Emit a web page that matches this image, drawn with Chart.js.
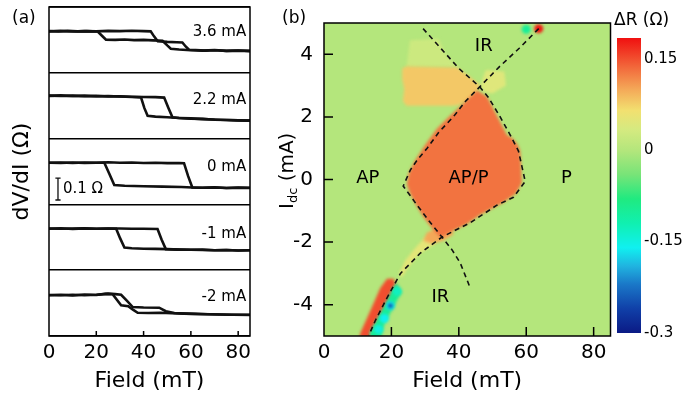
<!DOCTYPE html>
<html>
<head>
<meta charset="utf-8">
<script src="https://cdn.jsdelivr.net/npm/chart.js@4.4.1/dist/chart.umd.min.js"></script>
<style>
  body { margin: 0; background: #fff; font-family: "DejaVu Sans", sans-serif; }
  #wrap { position: relative; width: 693px; height: 398px; overflow: hidden; }
  canvas { position: absolute; top: 0; }
  #cA { left: 0; }
  #cB { left: 270px; }
  #cC { left: 600px; }
  .tag { position: absolute; color: #000; font-size: 17px; line-height: 1; }
</style>
</head>
<body>
<div id="wrap">
  <canvas id="cA" width="270" height="398"></canvas>
  <canvas id="cB" width="345" height="398"></canvas>
  <canvas id="cC" width="93" height="398"></canvas>
  <div class="tag" style="left:12px;top:9px">(a)</div>
  <div class="tag" style="left:282px;top:9px">(b)</div>
  <div class="tag" style="left:614px;top:11px">ΔR (Ω)</div>
</div>
<script>
// ---- data ----
const fieldTicks = [0, 20, 40, 60, 80];
const currentTicks = [-4, -2, 0, 2, 4];
const cbTicks = [0.15, 0, -0.15, -0.3];

// (a) dV/dI loops (Ohm above each strip's baseline), two sweep branches each
const loopLabels = ['3.6 mA', '2.2 mA', '0 mA', '-1 mA', '-2 mA'];
const f36a = [0, 5, 10, 15, 20, 25, 30, 35, 40, 43, 44.5, 46, 50, 54, 56.4, 57.8, 59.2, 62, 66, 70, 75, 80, 85];
const r36a = [.189, .191, .188, .190, .189, .191, .190, .192, .190, .189, .165, .144, .141, .139, .138, .120, .105, .104, .101, .103, .100, .102, .100];
const f36b = [0, 4, 8, 12, 16, 20.6, 22.5, 24.1, 28, 32, 36, 40, 44, 48, 50, 51.5, 55, 60, 65, 70, 75, 80, 85];
const r36b = [.190, .188, .191, .189, .190, .188, .168, .151, .150, .152, .149, .150, .148, .146, .125, .110, .106, .103, .101, .104, .100, .101, .099];
const f22a = [0, 5, 10, 15, 20, 25, 30, 35, 38.9, 40.3, 41.7, 45, 50, 55, 60, 65, 70, 75, 80, 85];
const r22a = [.195, .197, .194, .196, .193, .194, .192, .190, .188, .140, .104, .100, .097, .094, .092, .089, .087, .085, .083, .082];
const f22b = [0, 5, 10, 15, 20, 25, 30, 35, 40, 45, 48.7, 50.5, 52.2, 55, 60, 65, 70, 75, 80, 85];
const r22b = [.196, .194, .196, .193, .195, .192, .193, .191, .190, .189, .187, .140, .097, .094, .091, .090, .086, .085, .083, .082];
const f0a = [0, 5, 10, 15, 20, 23.4, 25.5, 27.6, 32, 40, 48, 56, 60.6, 65, 70, 75, 80, 85];
const r0a = [.190, .191, .189, .191, .190, .190, .140, .088, .085, .083, .081, .079, .077, .076, .078, .075, .077, .076];
const f0b = [0, 5, 10, 15, 20, 25, 30, 35, 40, 45, 50, 55, 57.1, 58.8, 60.6, 65, 70, 75, 80, 85];
const r0b = [.190, .189, .191, .189, .190, .192, .190, .191, .189, .190, .188, .189, .188, .130, .077, .076, .077, .075, .076, .075];
const f1a = [0, 5, 10, 15, 20, 25, 28.4, 30.1, 31.9, 35, 40, 45, 50, 55, 60, 65, 70, 75, 80, 85];
const r1a = [.189, .191, .188, .190, .189, .190, .189, .145, .103, .100, .098, .097, .096, .094, .093, .092, .091, .092, .090, .091];
const f1b = [0, 5, 10, 15, 20, 25, 30, 35, 40, 45.9, 47.6, 49.4, 55, 60, 65, 70, 75, 80, 85];
const r1b = [.190, .189, .190, .191, .189, .190, .190, .189, .189, .188, .140, .096, .094, .093, .094, .091, .092, .090, .091];
const f2a = [0, 5, 10, 15, 20, 24, 26.9, 28.7, 30.5, 33.5, 35.5, 37.5, 42, 47, 52, 57, 62, 67, 72, 77, 85];
const r2a = [.186, .188, .185, .189, .187, .192, .190, .165, .140, .136, .120, .106, .105, .106, .104, .102, .101, .099, .098, .097, .097];
const f2b = [0, 5, 10, 15, 20, 25, 28, 30.5, 33, 35.4, 40, 46.6, 49.4, 53, 58, 63, 68, 73, 78, 85];
const r2b = [.187, .186, .188, .186, .188, .193, .191, .188, .160, .132, .130, .129, .113, .105, .102, .100, .099, .098, .097, .096];
const scaleBarOhm = 0.1;

// (b) map of dR vs field and current, as regions of about equal value
const bgValue = 0.0;
const regionNames = ['topYellow', 'orangeBlock', 'rightYellow', 'tail', 'blob', 'apRed', 'redStrip', 'cyanBand'];
const regionValues = [0.025, 0.08, 0.045, 0.05, 0.1, 0.13, 0.15, -0.1];
const topYellowField = [24.5, 25.5, 34, 36, 39.5, 24.5];
const topYellowCurrent = [3.6, 4.45, 4.5, 4.0, 3.6, 3.6];
const orangeBlockField = [23.2, 24.5, 30, 39.5, 43, 46.4, 44, 40, 38, 24.5, 23.4, 23.8, 23.2];
const orangeBlockCurrent = [3.55, 3.62, 3.6, 3.58, 3.3, 3.0, 2.6, 2.38, 2.36, 2.36, 2.5, 2.9, 3.2];
const rightYellowField = [46.4, 48, 53.5, 54, 50, 47.5];
const rightYellowCurrent = [3.0, 3.5, 3.45, 3.0, 2.75, 2.8];
const tailField = [31, 33, 28, 25, 23, 22.3, 24, 27, 29.5];
const tailCurrent = [-1.8, -2.05, -2.4, -2.8, -3.15, -3.0, -2.6, -2.2, -1.9];
const blobField = [37, 38.5, 35.5, 32, 29.5, 30.5, 33.5];
const blobCurrent = [-1.5, -1.75, -1.95, -2.05, -1.95, -1.7, -1.55];
const apRedField = [45.4, 48.4, 51.5, 54.3, 55.5, 56.5, 57.5, 58.2, 58.5, 58.7, 57, 53, 46.4, 42, 38, 34.5, 32, 29.5, 27.5, 25.5, 24.6, 25.1, 27, 30, 33.5, 37, 40.4, 43];
const apRedCurrent = [2.85, 2.64, 2.0, 1.41, 1.35, 1.25, 1.1, 0.9, 0.4, -0.11, -0.45, -0.75, -1.13, -1.45, -1.65, -1.85, -1.55, -1.2, -0.85, -0.45, -0.15, 0.19, 0.6, 1.1, 1.62, 2.0, 2.33, 2.6];
const redStripField = [10.3, 10.8, 13.8, 16.7, 18.7, 20.7, 21.7, 18.7, 15.8, 13.8, 13.2];
const redStripCurrent = [-5.2, -4.9, -4.18, -3.47, -3.17, -3.17, -3.47, -4.08, -4.59, -4.98, -5.2];
const cyanBandField = [21.5, 23, 20.5, 18, 16.5, 14, 13.5, 16, 18.5, 20.3];
const cyanBandCurrent = [-3.3, -3.6, -4.1, -4.6, -5.2, -5.2, -4.9, -4.4, -3.9, -3.5];
const spotField = [21.7, 19.7, 17.9, 16.2, 60, 63.7];
const spotCurrent = [-3.57, -4.03, -4.44, -4.79, 4.8, 4.82];
const spotValue = [-0.13, -0.17, -0.16, -0.15, -0.1, 0.18];
const dotField = [19.7];
const dotCurrent = [-4.03];
const dotValue = [-0.27];

// dashed switching boundaries
const curveAField = [29.4, 35, 40, 46.2, 48.8, 52, 55.3, 57.7, 59.7, 56.2, 51.3, 43.4, 35, 28.6, 22.7, 18.7, 15.3, 13.3];
const curveACurrent = [4.82, 4.15, 3.55, 2.96, 2.62, 2.05, 1.41, 0.91, -0.06, -0.57, -0.82, -1.38, -1.84, -2.35, -3.0, -3.78, -4.49, -4.98];
const curveBField = [63.7, 58, 52, 46.2, 42, 38.5, 34, 30.6, 27.5, 25.6, 23.5, 25.5, 27.6, 31, 35, 38, 40.4, 43.4];
const curveBCurrent = [4.82, 4.2, 3.6, 2.96, 2.5, 2.02, 1.5, 1.0, 0.6, 0.3, -0.21, -0.5, -0.82, -1.3, -1.84, -2.25, -2.66, -3.47];

const regionLabels = ['IR', 'AP', 'AP/P', 'P', 'IR'];
const regionLabelField = [47.4, 13, 42.9, 71.9, 34.5];
const regionLabelCurrent = [4.27, 0.04, 0.04, 0.04, -3.78];

// colour scale
const cbMin = -0.3, cbMax = 0.184;
const cmapStops = [-0.30, -0.26, -0.22, -0.19, -0.16, -0.12, -0.08, -0.04, 0.0, 0.035, 0.065, 0.10, 0.135, 0.184];
const cmapColors = ['#0b1a85', '#1040a8', '#1a78c8', '#20b4e0', '#10f0f0', '#10f0b0', '#20ea80', '#78e478',
                    '#b4e67c', '#d6ea80', '#f2e070', '#f4a858', '#f26a3c', '#f01010'];

// ---- helpers ----
Chart.defaults.font.family = '"DejaVu Sans", sans-serif';
Chart.defaults.color = '#000';
Chart.defaults.animation = false;
Chart.defaults.responsive = false;
Chart.defaults.plugins.legend.display = false;
Chart.defaults.plugins.tooltip.enabled = false;
Chart.defaults.elements.point.radius = 0;
Chart.defaults.elements.line.tension = 0;

const pts = (xs, ys, dy = 0) => xs.map((x, i) => ({ x, y: ys[i] + dy }));
const setTicks = vals => s => { s.ticks = vals.map(v => ({ value: v })); };

function hexRgb(h) { const n = parseInt(h.slice(1), 16); return [n >> 16, (n >> 8) & 255, n & 255]; }
function cmap(v) {
  if (v <= cmapStops[0]) return cmapColors[0];
  for (let i = 1; i < cmapStops.length; i++) {
    if (v <= cmapStops[i]) {
      const t = (v - cmapStops[i - 1]) / (cmapStops[i] - cmapStops[i - 1]);
      const a = hexRgb(cmapColors[i - 1]), b = hexRgb(cmapColors[i]);
      return 'rgb(' + a.map((c, k) => Math.round(c + (b[k] - c) * t)).join(',') + ')';
    }
  }
  return cmapColors[cmapColors.length - 1];
}

// box around the plot plus inward tick marks
const frame = {
  id: 'frame',
  afterDatasetsDraw(chart, args, opts) {
    const { ctx, chartArea: a, scales: { x, y } } = chart;
    ctx.save();
    ctx.strokeStyle = '#000';
    ctx.lineWidth = 1.5;
    ctx.beginPath();
    x.ticks.forEach(t => {
      if (t.value <= x.min || t.value >= x.max) return;
      const px = x.getPixelForValue(t.value);
      ctx.moveTo(px, a.bottom); ctx.lineTo(px, a.bottom - opts.len);
    });
    if (opts.yTicks) y.ticks.forEach(t => {
      const py = y.getPixelForValue(t.value);
      ctx.moveTo(a.left, py); ctx.lineTo(a.left + opts.len, py);
    });
    ctx.stroke();
    ctx.strokeRect(a.left, a.top, a.width, a.height);
    ctx.restore();
  }
};

// ---- (a) ----
const stripHeight = 0.3;
const stripBase = i => (loopLabels.length - 1 - i) * stripHeight;
const loopLabelY = [0.186, 0.177, 0.172, 0.165, 0.178];
const branches = [[f36a, r36a, f36b, r36b], [f22a, r22a, f22b, r22b], [f0a, r0a, f0b, r0b],
                  [f1a, r1a, f1b, r1b], [f2a, r2a, f2b, r2b]];

const dsA = [];
branches.forEach((b, i) => {
  dsA.push({ data: pts(b[0], b[1], stripBase(i)), borderColor: '#111', borderWidth: 2.6 });
  dsA.push({ data: pts(b[2], b[3], stripBase(i)), borderColor: '#111', borderWidth: 2.6 });
});
// 0.1 ohm scale bar in the 0 mA strip
const barLow = stripBase(2) + 0.02, barHigh = barLow + scaleBarOhm;
dsA.push({ data: pts([2.7, 4.9, 3.8, 3.8, 2.7, 4.9], [barLow, barLow, barLow, barHigh, barHigh, barHigh]),
           borderColor: '#111', borderWidth: 1.3 });

const loopText = {
  id: 'loopText',
  afterDatasetsDraw(chart) {
    const { ctx, scales: { x, y } } = chart;
    ctx.save();
    ctx.fillStyle = '#000';
    ctx.font = '15px "DejaVu Sans"';
    ctx.textBaseline = 'middle';
    ctx.textAlign = 'right';
    loopLabels.forEach((s, i) => ctx.fillText(s, x.getPixelForValue(83.4), y.getPixelForValue(stripBase(i) + loopLabelY[i])));
    ctx.textAlign = 'left';
    ctx.fillText('0.1 Ω', x.getPixelForValue(5.9), y.getPixelForValue((barLow + barHigh) / 2));
    ctx.restore();
  }
};

new Chart(document.getElementById('cA'), {
  type: 'line',
  data: { datasets: dsA },
  options: {
    layout: { padding: { top: 7, right: 20, left: 0, bottom: 0 } },
    plugins: { frame: { len: 5, yTicks: false } },
    scales: {
      x: {
        type: 'linear', min: 0, max: 85, afterBuildTicks: setTicks(fieldTicks),
        grid: { display: false, drawTicks: false }, border: { display: false },
        ticks: { font: { size: 20 }, padding: 5, maxRotation: 0 },
        title: { display: true, text: 'Field (mT)', font: { size: 22 }, padding: { top: 0, bottom: 4 } },
        afterFit: s => { s.height = 62; }
      },
      y: {
        type: 'linear', min: 0, max: stripHeight * loopLabels.length,
        afterBuildTicks: setTicks(loopLabels.map((l, i) => i * stripHeight).concat([stripHeight * loopLabels.length])),
        grid: { color: '#000', lineWidth: 1.5, drawTicks: false }, border: { display: false },
        ticks: { display: false },
        title: { display: true, text: 'dV/dI (Ω)', font: { size: 22 }, padding: { top: 9, bottom: 0 } },
        afterFit: s => { s.width = 49; }
      }
    }
  },
  plugins: [frame, loopText]
});

// ---- (b) ----
const regionData = {
  topYellow: [topYellowField, topYellowCurrent], orangeBlock: [orangeBlockField, orangeBlockCurrent],
  rightYellow: [rightYellowField, rightYellowCurrent], tail: [tailField, tailCurrent],
  blob: [blobField, blobCurrent], apRed: [apRedField, apRedCurrent],
  redStrip: [redStripField, redStripCurrent], cyanBand: [cyanBandField, cyanBandCurrent]
};

const dashed = { borderColor: '#111', borderWidth: 1.6, borderDash: [5, 4] };
const dsB = [
  { data: pts(curveAField, curveACurrent), ...dashed },
  { data: pts(curveBField, curveBCurrent), ...dashed },
  { data: pts(dotField, dotCurrent), showLine: false, pointRadius: 2, pointBackgroundColor: dotValue.map(cmap), pointBorderWidth: 0 },
  { data: pts(spotField, spotCurrent), showLine: false, pointRadius: 4.5, pointBackgroundColor: spotValue.map(cmap), pointBorderWidth: 0 }
];
const lastBlurred = 2; // datasets drawn from the highest index down; blur ends after this one
regionNames.slice().reverse().forEach(name => {
  const v = regionValues[regionNames.indexOf(name)];
  dsB.push({ data: pts(regionData[name][0], regionData[name][1]), fill: 'shape',
             backgroundColor: cmap(v), borderColor: 'rgba(0,0,0,0)', borderWidth: 1 });
});

const heatBlur = {
  id: 'heatBlur',
  beforeDatasetsDraw(chart) {
    const { ctx, chartArea: a } = chart;
    ctx.fillStyle = cmap(bgValue);
    ctx.fillRect(a.left, a.top, a.width, a.height);
    ctx.save();
    ctx.filter = 'blur(1.5px)';
  },
  afterDatasetDraw(chart, args) {
    if (args.index === lastBlurred) chart.ctx.restore();
  }
};

const mapText = {
  id: 'mapText',
  afterDatasetsDraw(chart) {
    const { ctx, scales: { x, y } } = chart;
    ctx.save();
    ctx.fillStyle = '#000';
    ctx.font = '18px "DejaVu Sans"';
    ctx.textAlign = 'center';
    ctx.textBaseline = 'middle';
    regionLabels.forEach((s, i) => ctx.fillText(s, x.getPixelForValue(regionLabelField[i]), y.getPixelForValue(regionLabelCurrent[i])));
    ctx.restore();
  },
  afterDraw(chart) {
    // y title with subscript: I_dc (mA)
    const ctx = chart.ctx;
    ctx.save();
    ctx.translate(23, 209);
    ctx.rotate(-Math.PI / 2);
    ctx.fillStyle = '#000';
    ctx.textAlign = 'left';
    ctx.textBaseline = 'alphabetic';
    ctx.font = '20px "DejaVu Sans"';
    ctx.fillText('I', 0, 0);
    let w = ctx.measureText('I').width;
    ctx.font = '13px "DejaVu Sans"';
    ctx.fillText('dc', w, 4);
    w += ctx.measureText('dc').width;
    ctx.font = '20px "DejaVu Sans"';
    ctx.fillText(' (mA)', w, 0);
    ctx.restore();
  }
};

new Chart(document.getElementById('cB'), {
  type: 'line',
  data: { datasets: dsB },
  options: {
    layout: { padding: { top: 9, right: 4.5, left: 0, bottom: 0 } },
    plugins: { frame: { len: 9, yTicks: true } },
    scales: {
      x: {
        type: 'linear', min: 0, max: 85, afterBuildTicks: setTicks(fieldTicks),
        grid: { display: false, drawTicks: false }, border: { display: false },
        ticks: { font: { size: 20 }, padding: 5, maxRotation: 0 },
        title: { display: true, text: 'Field (mT)', font: { size: 22 }, padding: { top: 0, bottom: 4 } },
        afterFit: s => { s.height = 62; }
      },
      y: {
        type: 'linear', min: -5, max: 5, afterBuildTicks: setTicks(currentTicks),
        grid: { display: false, drawTicks: false }, border: { display: false },
        ticks: { font: { size: 20 }, padding: 11 },
        afterFit: s => { s.width = 54; }
      }
    }
  },
  plugins: [heatBlur, frame, mapText]
});

// ---- colour bar ----
function barGradient(chart) {
  const { ctx, chartArea, scales } = chart;
  if (!chartArea) return cmapColors[0];
  const y = scales.y;
  const g = ctx.createLinearGradient(0, y.getPixelForValue(cbMin), 0, y.getPixelForValue(cbMax));
  cmapStops.forEach((v, i) => g.addColorStop((v - cbMin) / (cbMax - cbMin), cmapColors[i]));
  return g;
}

new Chart(document.getElementById('cC'), {
  type: 'bar',
  data: {
    labels: ['ΔR'],
    datasets: [{ data: [[cbMin, cbMax]], backgroundColor: c => barGradient(c.chart),
                 barPercentage: 1, categoryPercentage: 1, borderWidth: 0 }]
  },
  options: {
    layout: { padding: { top: 38, bottom: 65, left: 17, right: 0 } },
    scales: {
      x: { display: false },
      y: {
        position: 'right', min: cbMin, max: cbMax, afterBuildTicks: setTicks(cbTicks),
        grid: { display: false, drawTicks: false }, border: { display: false },
        ticks: { font: { size: 15 }, padding: 3, callback: v => String(v) },
        afterFit: s => { s.width = 52; }
      }
    }
  }
});
</script>
</body>
</html>
